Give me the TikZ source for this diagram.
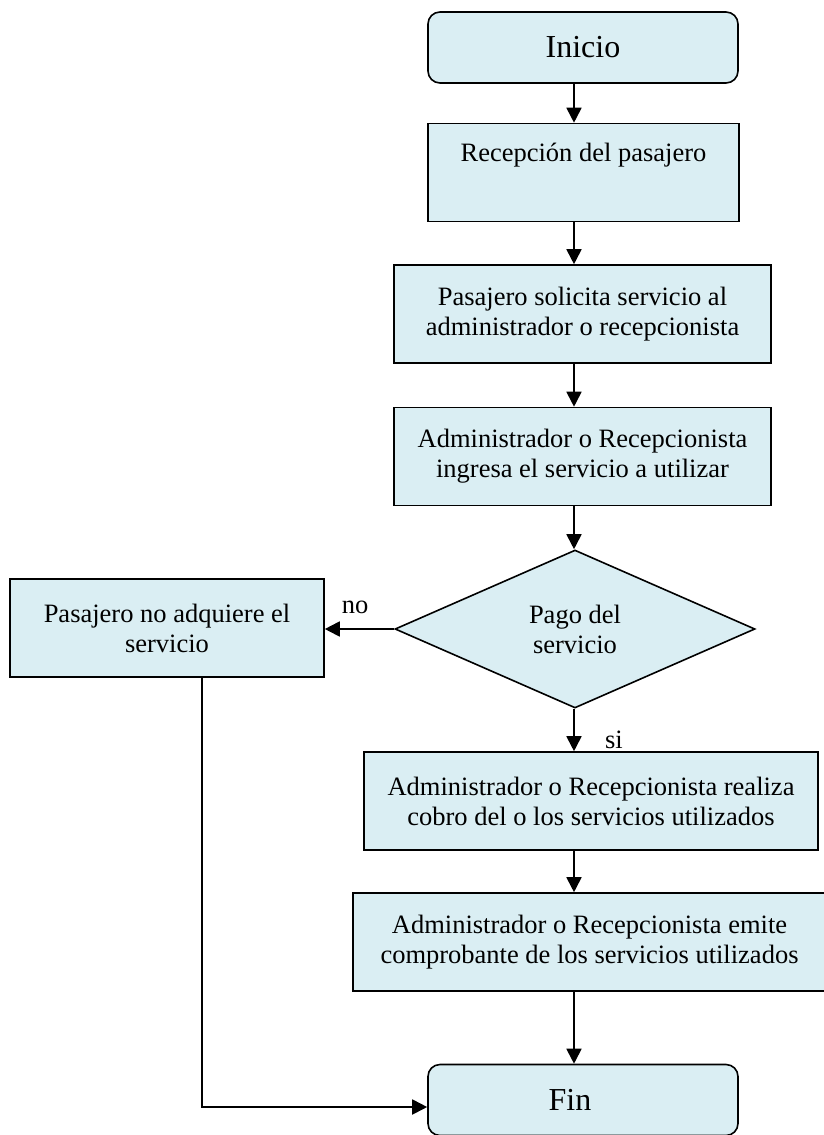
\documentclass[tikz,border=0pt]{standalone}
\usepackage{fontspec}
\setmainfont{Liberation Serif}
\usetikzlibrary{shapes.geometric,arrows.meta}
\definecolor{boxfill}{HTML}{DAEEF3}
\begin{document}
\begin{tikzpicture}[x=1pt,y=-1pt,
  base/.style={draw=black, line width=1.6pt, fill=boxfill, inner sep=4pt,
    align=center, font=\fontsize{26.5}{30}\selectfont},
  stepbox/.style={base, rectangle, minimum height=98pt},
  terminal/.style={base, rectangle, rounded corners=12pt, minimum width=310pt,
    minimum height=71pt, font=\fontsize{32}{36}\selectfont},
  decision/.style={base, diamond, aspect=2.3, minimum width=360pt, minimum height=158pt},
  arr/.style={line width=1.8pt, -{Triangle[length=15pt,width=15pt]}},
  lbl/.style={font=\fontsize{26.5}{30}\selectfont, inner sep=0pt}
]
\useasboundingbox (0,0) rectangle (824,1135);

% main column of the flow
\coordinate (axis) at (574,0);

\node[terminal] (inicio) at (583,47.5) {Inicio};
\node[stepbox, minimum width=311pt, text height=18pt, text depth=40pt] (recep) at (583.5,172.5) {Recepción del pasajero};
\node[stepbox, minimum width=377pt] (solic) at (582.5,314) {Pasajero solicita servicio al\\administrador o recepcionista};
\node[stepbox, minimum width=377pt] (ingresa) at (582.5,456.5) {Administrador o Recepcionista\\ingresa el servicio a utilizar};
\node[decision] (pago) at (575,629) {Pago del\\servicio};
\node[stepbox, minimum width=314pt] (noadq) at (167,628) {Pasajero no adquiere el\\servicio};
\node[stepbox, minimum width=454pt] (cobro) at (591,801) {Administrador o Recepcionista realiza\\cobro del o los servicios utilizados};
\node[stepbox, minimum width=484pt] (emite) at (595,942) {\hspace*{-11pt}Administrador o Recepcionista emite\\\hspace*{-11pt}comprobante de los servicios utilizados};
\node[terminal] (fin) at (583,1100) {Fin\hspace*{26pt}};

% branch labels
\node[lbl] (nolbl) at (355,607) {no};
\node[lbl] (silbl) at (614,740) {si};

% connectors
\draw[arr] (inicio.south -| axis) -- (recep.north -| axis);
\draw[arr] (recep.south -| axis) -- (solic.north -| axis);
\draw[arr] (solic.south -| axis) -- (ingresa.north -| axis);
\draw[arr] (ingresa.south -| axis) -- (pago.north -| axis);
\draw[arr] (pago.west) -- (pago.west -| noadq.east);
\draw[arr] (pago.south -| axis) -- (cobro.north -| axis);
\draw[arr] (cobro.south -| axis) -- (emite.north -| axis);
\draw[arr] (emite.south -| axis) -- (fin.north -| axis);
\draw[arr] ([xshift=35pt]noadq.south) |- ([yshift=-7pt]fin.west);
\end{tikzpicture}
\end{document}
